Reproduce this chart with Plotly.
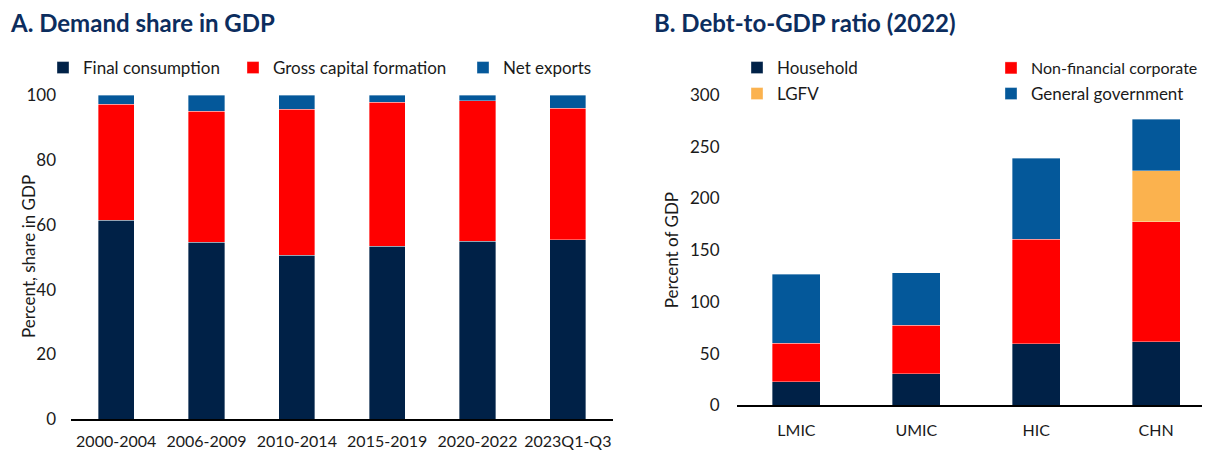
import plotly.graph_objects as go

# Panel A data
periods = ["2000-2004", "2006-2009", "2010-2014", "2015-2019", "2020-2022", "2023Q1-Q3"]
final_consumption = [61.4, 54.6, 50.6, 53.4, 54.9, 55.4]
gross_capital_formation = [35.7, 40.4, 45.0, 44.3, 43.3, 40.5]
net_exports = [2.9, 5.0, 4.4, 2.3, 1.8, 4.1]

# Panel B data
groups = ["LMIC", "UMIC", "HIC", "CHN"]
household = [22.9, 30.3, 59.6, 61.2]
non_financial_corporate = [37.0, 47.3, 100.8, 116.0]
lgfv = [None, None, None, 49.6]
general_government = [67.0, 50.3, 78.6, 49.6]

NAVY = "#002147"
RED = "#FF0000"
BLUE = "#04589A"
ORANGE = "#FBB24E"
FONT = "Lato"
TXT = "#1a1a1a"
FS = 17
# the page body adds an 8px offset; the figure is sized to fill the rest of the window
OFF = 8
W, H = 1210 - OFF, 452 - OFF

def px(x):
    return (x - OFF) / W

def py(y):
    return 1 - (y - OFF) / H

fig = go.Figure()

line = dict(width=0.6, color="rgba(255,255,255,0.6)")

fig.add_trace(go.Bar(x=periods, y=final_consumption, name="Final consumption",
                     marker=dict(color=NAVY, line=line), xaxis="x", yaxis="y", legend="legend"))
fig.add_trace(go.Bar(x=periods, y=gross_capital_formation, name="Gross capital formation",
                     marker=dict(color=RED, line=line), xaxis="x", yaxis="y", legend="legend2"))
fig.add_trace(go.Bar(x=periods, y=net_exports, name="Net exports",
                     marker=dict(color=BLUE, line=line), xaxis="x", yaxis="y", legend="legend3"))

fig.add_trace(go.Bar(x=groups, y=household, name="Household",
                     marker=dict(color=NAVY, line=line), xaxis="x2", yaxis="y2", legend="legend4"))
fig.add_trace(go.Bar(x=groups, y=non_financial_corporate, name="Non-financial corporate",
                     marker=dict(color=RED, line=line), xaxis="x2", yaxis="y2", legend="legend5"))
fig.add_trace(go.Bar(x=groups, y=lgfv, name="LGFV",
                     marker=dict(color=ORANGE, line=line), xaxis="x2", yaxis="y2", legend="legend6"))
fig.add_trace(go.Bar(x=groups, y=general_government, name="General government",
                     marker=dict(color=BLUE, line=line), xaxis="x2", yaxis="y2", legend="legend7"))

def leg(x, y, size=FS):
    return dict(x=px(x), y=py(y), xanchor="left", yanchor="middle", orientation="v",
                bgcolor="rgba(0,0,0,0)", font=dict(family=FONT, size=size, color=TXT),
                itemclick=False, itemdoubleclick=False, tracegroupgap=0)

fig.update_layout(
    width=W, height=H,
    margin=dict(l=0, r=0, t=0, b=0, autoexpand=False),
    paper_bgcolor="white", plot_bgcolor="white",
    barmode="stack",
    font=dict(family=FONT, size=FS, color=TXT),
    xaxis=dict(domain=[px(71), px(613)], anchor="y", showline=True, linecolor="black", linewidth=1.5,
               ticks="", showgrid=False, tickfont=dict(size=16), tickangle=0, ticklabelstandoff=7),
    yaxis=dict(domain=[py(419.3), py(95)], anchor="x", range=[0, 100], dtick=20, showgrid=False,
               zeroline=False, showline=False, ticks="", tickfont=dict(size=FS), ticklabelstandoff=14),
    xaxis2=dict(domain=[px(736.5), 1.0], anchor="y2", range=[-0.5, 3.45], showline=True, linecolor="black",
                linewidth=1.5, ticks="", showgrid=False, tickfont=dict(size=16), tickangle=0,
                ticklabelstandoff=10),
    yaxis2=dict(domain=[py(405.3), py(94.9)], anchor="x2", range=[0, 300], dtick=50, showgrid=False,
                zeroline=False, showline=False, ticks="", tickfont=dict(size=FS), ticklabelstandoff=16,
                title=dict(text="Percent of GDP", font=dict(size=FS), standoff=6)),
    bargap=0.6,
    showlegend=True,
    legend=leg(43, 68),
    legend2=leg(233, 68),
    legend3=leg(463, 68),
    legend4=leg(737, 68),
    legend5=leg(991, 68, 16),
    legend6=leg(737, 94),
    legend7=leg(991, 94),
    annotations=[
        dict(text="<b>A. Demand share in GDP</b>", x=px(8), y=py(22), xref="paper", yref="paper",
             xanchor="left", yanchor="middle", showarrow=False,
             font=dict(family=FONT, size=24, color="#0C2D5E")),
        dict(text="<b>B. Debt-to-GDP ratio (2022)</b>", x=px(652), y=py(22), xref="paper", yref="paper",
             xanchor="left", yanchor="middle", showarrow=False,
             font=dict(family=FONT, size=24, color="#0C2D5E")),
        dict(text="Percent, share in GDP", x=px(28), y=py(257), xref="paper", yref="paper",
             xanchor="center", yanchor="middle", textangle=-90, showarrow=False,
             font=dict(family=FONT, size=FS, color=TXT)),
    ],
)

fig.write_html("out.html")
